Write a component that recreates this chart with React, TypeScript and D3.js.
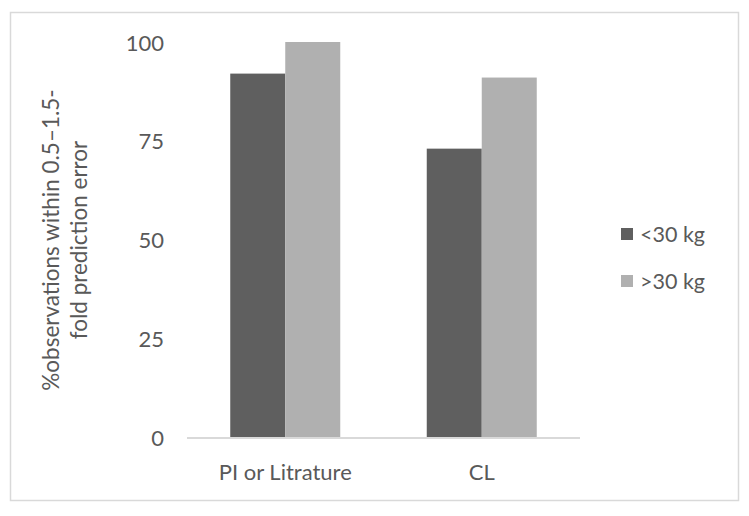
import React from "react";
import * as d3 from "d3";

const categories = ["PI or Litrature", "CL"];
const seriesNames = ["<30 kg", ">30 kg"];
const under30 = [92, 73];
const over30 = [100, 91];
const yTicks = [0, 25, 50, 75, 100];
const colors = ["#5f5f5f", "#b0b0b0"];

export default function App() {
  const W = 749, H = 516;
  const x0 = d3.scaleBand<string>().domain(categories).range([187, 580]).paddingInner(0).paddingOuter(0);
  const y = d3.scaleLinear().domain([0, 100]).range([437, 42]);
  const barW = 55;
  const series = [under30, over30];
  const font = "Lato, 'Open Sans', sans-serif";
  return (
    <svg width={W} height={H} style={{ position: "absolute", left: 0, top: 0 }}>
      <rect x={0} y={0} width={W} height={H} fill="#fff" />
      <rect x={10.5} y={12.5} width={728} height={488} fill="#fff" stroke="#d9d9d9" strokeWidth={1.5} />
      {yTicks.map((t) => (
        <text key={t} x={164} y={y(t)} textAnchor="end" dominantBaseline="central" fontFamily={font} fontSize={22} fill="#595959">
          {t}
        </text>
      ))}
      {categories.map((c, i) => {
        const cx = (x0(c) as number) + x0.bandwidth() / 2;
        return (
          <g key={c}>
            {series.map((s, j) => (
              <rect key={j} x={cx - barW + j * barW} y={y(s[i])} width={barW} height={y(0) - y(s[i])} fill={colors[j]} />
            ))}
            <text x={cx} y={471} textAnchor="middle" dominantBaseline="central" fontFamily={font} fontSize={22} fill="#595959">
              {c}
            </text>
          </g>
        );
      })}
      <line x1={187} x2={580} y1={y(0) + 1} y2={y(0) + 1} stroke="#d9d9d9" strokeWidth={2} />
      <g transform="translate(64,240) rotate(-90)">
        <text x={0} y={-14} textAnchor="middle" dominantBaseline="central" fontFamily={font} fontSize={22.5} fill="#595959">
          %observations within 0.5–1.5-
        </text>
        <text x={0} y={14} textAnchor="middle" dominantBaseline="central" fontFamily={font} fontSize={22.5} fill="#595959">
          fold prediction error
        </text>
      </g>
      {seriesNames.map((n, j) => (
        <g key={n} transform={`translate(621,${234 + j * 47})`}>
          <rect x={0} y={-6} width={12} height={12} fill={colors[j]} />
          <text x={19} y={0} dominantBaseline="central" fontFamily={font} fontSize={21.5} fill="#595959">
            {n}
          </text>
        </g>
      ))}
    </svg>
  );
}
